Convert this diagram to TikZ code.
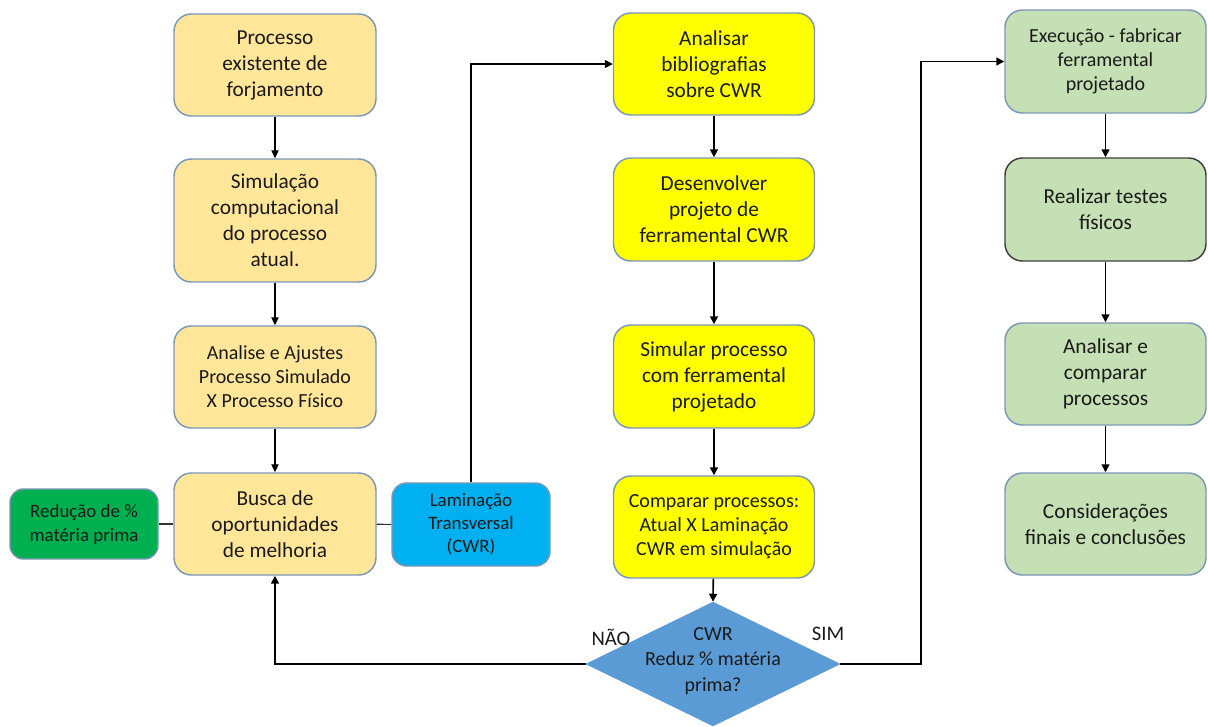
\documentclass[tikz,border=0pt]{standalone}
\usepackage{fontspec}
\setmainfont{Carlito}
\usetikzlibrary{shapes.geometric,arrows.meta}
\definecolor{peach}{HTML}{FFE699}
\definecolor{bord}{HTML}{7C98B6}
\definecolor{yel}{HTML}{FFFF00}
\definecolor{lgreen}{HTML}{C5E0B4}
\definecolor{dgreen}{HTML}{00B050}
\definecolor{sky}{HTML}{00B0F0}
\definecolor{dia}{HTML}{5B9BD5}
\definecolor{txt}{HTML}{1A1A1A}
\tikzset{
  box/.style={draw=bord, line width=1.1pt, rounded corners=13pt, align=center, inner sep=0pt,
    minimum width=202*0.75pt, text=txt, font=\fontsize{16pt}{19.5pt}\selectfont},
  medtext/.style={font=\fontsize{15pt}{18pt}\selectfont},
  laminatext/.style={font=\fontsize{14.2pt}{17.2pt}\selectfont},
  greentext/.style={font=\fontsize{14.2pt}{18pt}\selectfont},
  thinarrow/.style={draw=black, line width=0.8pt, -{Triangle[length=6pt,width=5.5pt]}},
  thickarrow/.style={draw=black, line width=1.2pt, -{Triangle[length=6pt,width=6pt]}},
  thinline/.style={draw=black!80, line width=0.8pt},
  lbl/.style={font=\fontsize{15.5pt}{19pt}\selectfont, text=txt, inner sep=0pt}
}
\begin{document}
\begin{tikzpicture}[x=0.75pt,y=-0.75pt]
\useasboundingbox[fill=white] (0,0) rectangle (1208,726);

% column 1
\node[box, fill=peach, minimum height=102*0.75pt] (p1) at (275,65) {Processo\\existente de\\forjamento};
\node[box, fill=peach, minimum height=123*0.75pt] (p2) at (275,220.5) {Simulação\\computacional\\do processo\\atual.};
\node[box, fill=peach, medtext, minimum height=102*0.75pt] (p3) at (275,377) {Analise e Ajustes\\Processo Simulado\\X Processo Físico};
\node[box, fill=peach, minimum height=102*0.75pt] (p4) at (275,524) {Busca de\\oportunidades\\de melhoria};
\node[box, fill=dgreen, greentext, minimum width=148*0.75pt, minimum height=70*0.75pt, rounded corners=10pt] (g) at (84,524) {Redução de \%\\matéria prima};
\node[box, fill=sky, laminatext, minimum width=158*0.75pt, minimum height=83*0.75pt, rounded corners=11pt] (b) at (471,524.5) {Laminação\\Transversal\\(CWR)};

% column 2
\node[box, fill=yel, minimum width=201*0.75pt, minimum height=102*0.75pt] (q1) at (714,64) {Analisar\\bibliografias\\sobre CWR};
\node[box, fill=yel, minimum width=201*0.75pt, minimum height=103*0.75pt] (q2) at (714,209.5) {Desenvolver\\projeto de\\ferramental CWR};
\node[box, fill=yel, minimum width=201*0.75pt, minimum height=103*0.75pt] (q3) at (714,376.5) {Simular processo\\com ferramental\\projetado};
\node[box, fill=yel, medtext, minimum width=201*0.75pt, minimum height=102*0.75pt] (q4) at (714,527) {Comparar processos:\\Atual X Laminação\\CWR em simulação};
\node[draw=dia, fill=dia, shape=diamond, minimum width=254*0.75pt, minimum height=124*0.75pt, inner sep=0pt] (d) at (713,664) {};
\node[lbl, align=center, font=\fontsize{15pt}{19pt}\selectfont] (dt) at (713,661) {CWR\\Reduz \% matéria\\prima?};

% column 3
\node[box, fill=lgreen, medtext, minimum width=201*0.75pt, minimum height=103*0.75pt] (r1) at (1105.5,61.5) {Execução - fabricar\\ferramental\\projetado};
\node[box, fill=lgreen, draw=black!75, minimum width=201*0.75pt, minimum height=103*0.75pt] (r2) at (1105.5,209.5) {Realizar testes\\físicos};
\node[box, fill=lgreen, minimum width=201*0.75pt, minimum height=102*0.75pt] (r3) at (1105.5,374) {Analisar e\\comparar\\processos};
\node[box, fill=lgreen, minimum width=201*0.75pt, minimum height=102*0.75pt] (r4) at (1105.5,524) {Considerações\\finais e conclusões};

% labels
\node[lbl] (nao) at (611,637) {NÃO};
\node[lbl] (sim) at (828,634) {SIM};

% connectors column 1
\draw[thinarrow] (p1) -- (p2);
\draw[thinarrow] (p2) -- (p3);
\draw[thinarrow] (p3) -- (p4);
\draw[thinline] (g) -- (p4);
\draw[thinline] (b) -- (p4);
\draw[thickarrow] (d.west) -| (p4.south);
\draw[thickarrow] (b.north) |- (q1.west);

% column 2
\draw[thickarrow] (q1) -- (q2);
\draw[thickarrow] (q2) -- (q3);
\draw[thickarrow] (q3) -- (q4);
\draw[thickarrow] (q4) -- (d.north);

% to column 3
\coordinate (c1) at (921,664);
\draw[thickarrow] (d.east) -- (c1) |- (r1.west);
\draw[thickarrow] (r1) -- (r2);
\draw[thickarrow] (r2) -- (r3);
\draw[thickarrow] (r3) -- (r4);
\end{tikzpicture}
\end{document}
